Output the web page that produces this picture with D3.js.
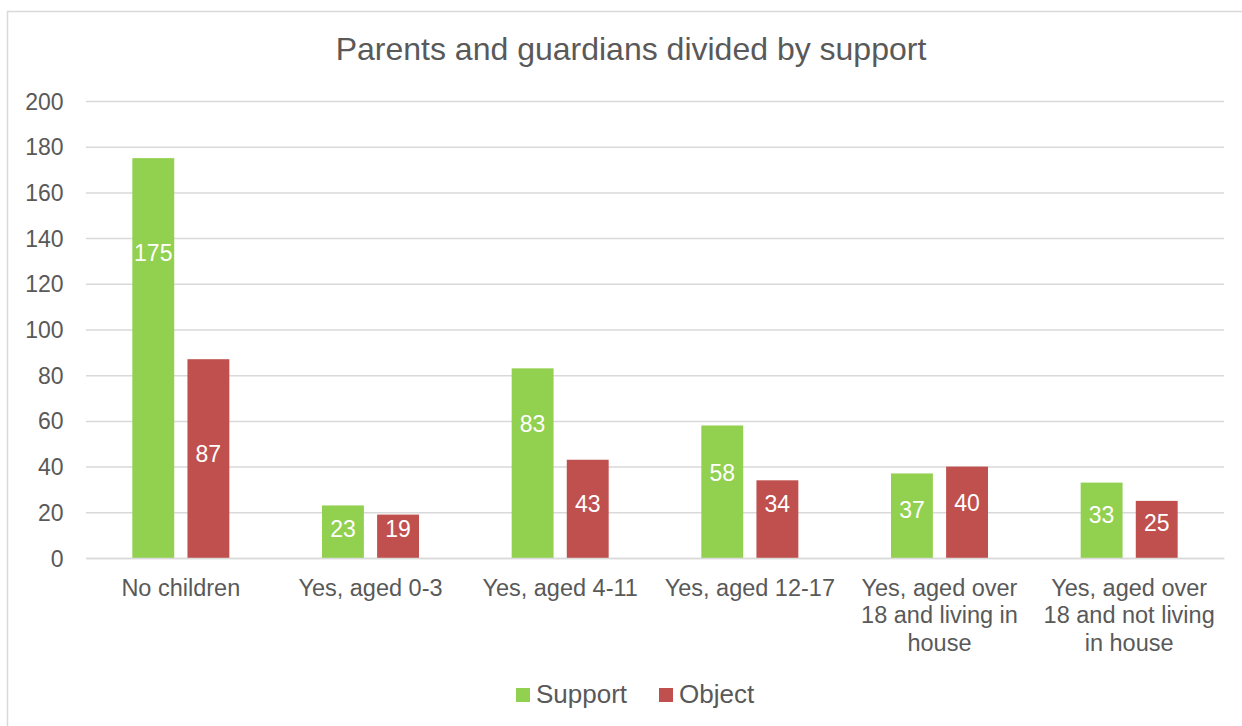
<!DOCTYPE html>
<html><head><meta charset="utf-8">
<script src="https://cdn.jsdelivr.net/npm/d3@7"></script>
<style>body{margin:0;background:#fff;}svg{display:block;font-family:Arial,"Liberation Sans",sans-serif;}</style>
</head><body><svg id="c" width="1242" height="726"></svg>
<script>
const categories = [["No children"],["Yes, aged 0-3"],["Yes, aged 4-11"],["Yes, aged 12-17"],["Yes, aged over","18 and living in","house"],["Yes, aged over","18 and not living","in house"]];
const seriesNames = ["Support","Object"];
const support = [175,23,83,58,37,33];
const object = [87,19,43,34,40,25];
const yTicks = [0,20,40,60,80,100,120,140,160,180,200];
const colors = ["#92D050","#C0504D"];
// where each data label sits, in axis units (labels were placed by hand in the original)
const supportLabelAt = [133.5,12.7,58.6,37.2,21,18.8];
const objectLabelAt = [45.5,12.7,23.6,23.6,24,15.3];

const svg = d3.select("#c");
svg.append("rect").attr("x",7.5).attr("y",11.5).attr("width",1250).attr("height",730).attr("fill","#fff").attr("stroke","#D9D9D9").attr("stroke-width",1.5);

const pL=86,pR=1224,pT=101,pB=558;
const x = d3.scaleBand().domain(d3.range(categories.length)).range([pL,pR]);
const y = d3.scaleLinear().domain([0,200]).range([pB,pT]);
const inner = d3.scaleBand().domain([0,1]).range([0,97]).paddingInner(0.24);

svg.append("text").attr("x",631).attr("y",60).attr("text-anchor","middle").attr("font-size",32).attr("fill","#595959").text("Parents and guardians divided by support");

const yAxis = svg.append("g").attr("transform",`translate(${pL},0)`).call(d3.axisLeft(y).tickValues(yTicks).tickSize(-(pR-pL)).tickFormat(d3.format("d")));
yAxis.select(".domain").remove();
yAxis.selectAll("line").attr("stroke","#D9D9D9").attr("stroke-width",1.5);
yAxis.selectAll("text").attr("fill","#595959").attr("font-size",23).attr("x",-22.5).attr("dy","0.35em").attr("font-family",null);

const data = [support, object];
const anchors = [supportLabelAt, objectLabelAt];
data.forEach((vals,si)=>{
  const g = svg.append("g");
  vals.forEach((v,i)=>{
    const bx = x(i)+(x.bandwidth()-97)/2+inner(si);
    g.append("rect").attr("x",bx).attr("y",y(v)).attr("width",inner.bandwidth()).attr("height",y(0)-y(v)).attr("fill",colors[si]);
    g.append("text").attr("x",bx+inner.bandwidth()/2).attr("y",y(anchors[si][i])).attr("dy","0.36em").attr("text-anchor","middle").attr("font-size",23).attr("fill","#fff").text(v);
  });
});

const xAxis = svg.append("g").attr("transform",`translate(0,${pB})`).call(d3.axisBottom(x).tickSize(0).tickFormat(""));
xAxis.select(".domain").attr("stroke","#D9D9D9").attr("stroke-width",1.5);
categories.forEach((lines,i)=>{
  const t = svg.append("text").attr("text-anchor","middle").attr("font-size",23.5).attr("fill","#595959");
  lines.forEach((l,j)=>t.append("tspan").attr("x",x(i)+x.bandwidth()/2).attr("y",596+j*27.3).text(l));
});

const legend = svg.append("g");
const lx=[516,659];
seriesNames.forEach((n,i)=>{
  legend.append("rect").attr("x",lx[i]).attr("y",688).attr("width",14).attr("height",14).attr("fill",colors[i]);
  legend.append("text").attr("x",lx[i]+20).attr("y",703).attr("font-size",26).attr("fill","#595959").text(n);
});
</script></body></html>
